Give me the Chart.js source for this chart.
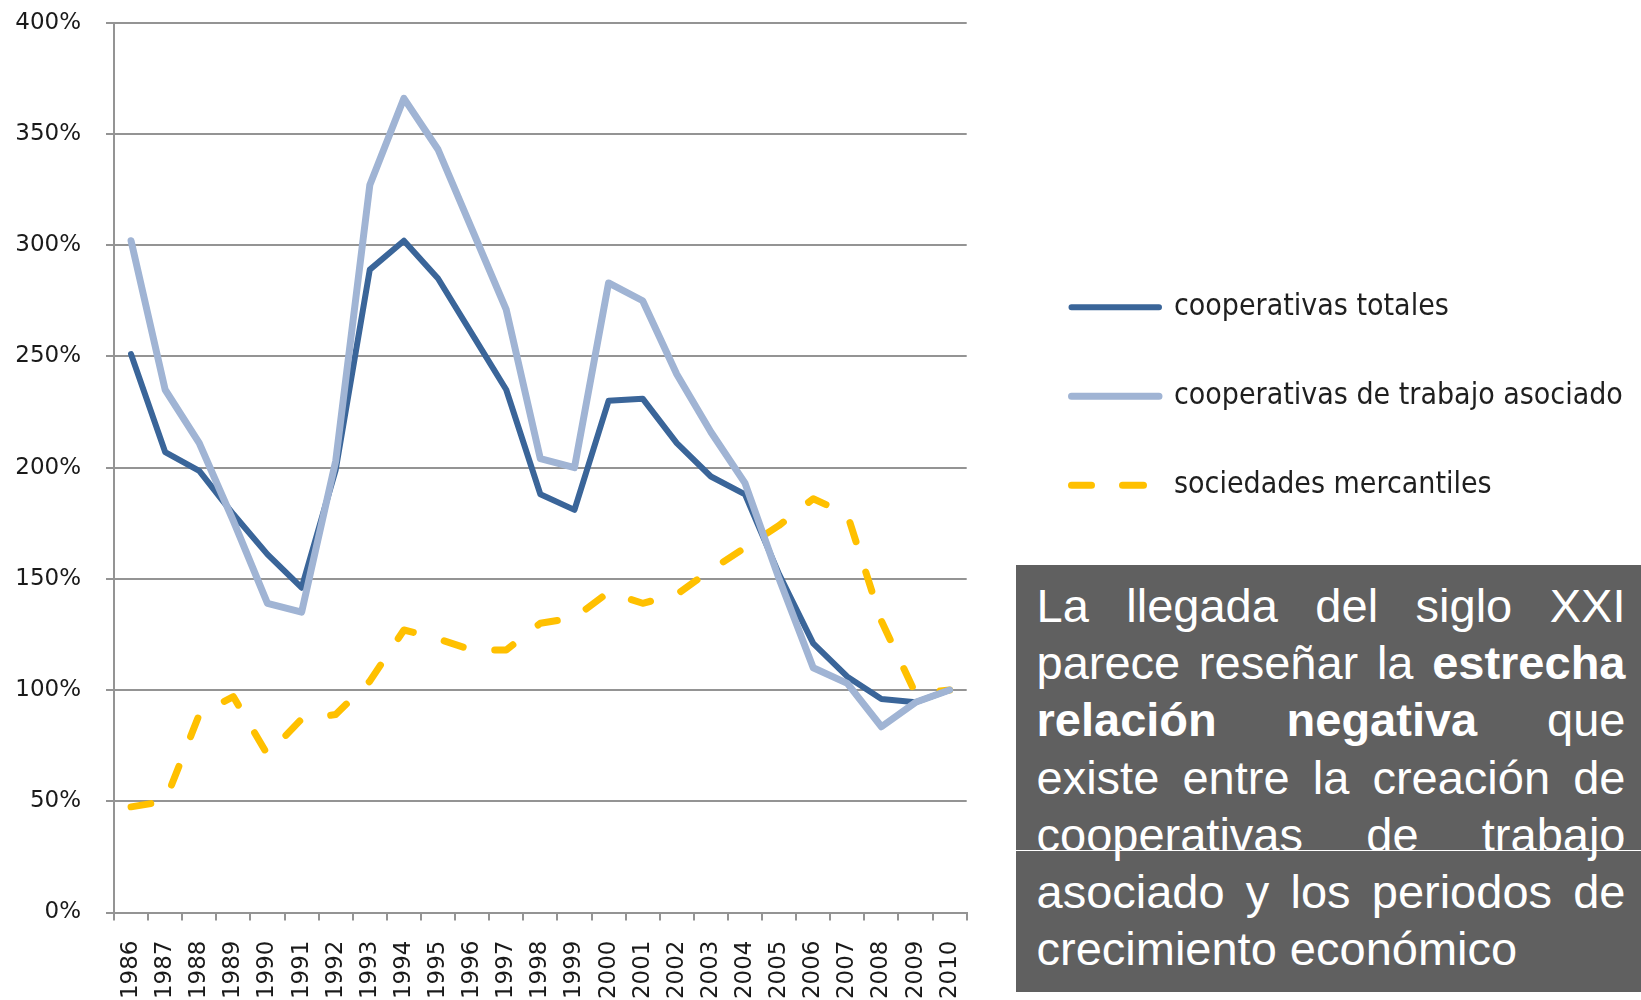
<!DOCTYPE html>
<html>
<head>
<meta charset="utf-8">
<script src="https://cdn.jsdelivr.net/npm/chart.js@4.4.1/dist/chart.umd.min.js"></script>
<style>
html,body{margin:0;padding:0;background:#fff;width:1641px;height:1000px;overflow:hidden;}
#c{position:absolute;left:0;top:0;width:1641px;height:1000px;}
#box{position:absolute;left:1016px;top:565px;width:625px;height:427px;background:#606060;}
.ln{position:absolute;left:20.5px;width:589px;font-family:"Liberation Sans",Arial,sans-serif;font-size:47px;line-height:56.7px;height:56.7px;color:#fff;text-align:justify;text-align-last:justify;}
.ln.last{text-align:left;text-align-last:left;}
#rule{position:absolute;left:0;top:284.5px;width:625px;height:1.5px;background:#fff;}
</style>
</head>
<body>
<canvas id="c" width="1641" height="1000"></canvas>
<div id="box">
  <div class="ln" style="top:13px">La llegada del siglo XXI</div>
  <div class="ln" style="top:70.2px">parece reseñar la <b>estrecha</b></div>
  <div class="ln" style="top:127.4px"><b>relación negativa</b> que</div>
  <div class="ln" style="top:184.6px">existe entre la creación de</div>
  <div class="ln" style="top:241.8px">cooperativas de trabajo</div>
  <div id="rule"></div>
  <div class="ln" style="top:299px">asociado y los periodos de</div>
  <div class="ln last" style="top:356.2px">crecimiento económico</div>
</div>
<script>
const years = ['1986','1987','1988','1989','1990','1991','1992','1993','1994','1995','1996','1997','1998','1999','2000','2001','2002','2003','2004','2005','2006','2007','2008','2009','2010'];
const cooperativasTotales = [251,207,198.5,179,161,146,199,289,302,285,260,235,188,181,230,231,211,196,188,152,121,106,96,94.5,100];
const cooperativasTrabajoAsociado = [302,235,211,176,139,135,203,327,366,343,307,271,204,200,283,275,242,216,193,150,110,103,83.5,94.5,100];
const sociedadesMercantiles = [47.5,50,89,97,71,87,89,104,127,123,118,118,130,132.5,144,139,143,154,164,174,186,179,131,98.5,100];
const yTicks = [0,50,100,150,200,250,300,350,400];
const seriesLabels = ['cooperativas totales','cooperativas de trabajo asociado','sociedades mercantiles'];

const gridColor = '#949494';
const labelColor = '#1a1a1a';

new Chart(document.getElementById('c'), {
  type: 'line',
  data: {
    labels: years,
    datasets: [
      {label: seriesLabels[0], data: cooperativasTotales, borderColor: '#3a6599', backgroundColor: '#3a6599', borderWidth: 6, pointRadius: 0, tension: 0, order: 1, borderJoinStyle: 'round', borderCapStyle: 'round'},
      {label: seriesLabels[1], data: cooperativasTrabajoAsociado, borderColor: '#a0b4d4', backgroundColor: '#a0b4d4', borderWidth: 7, pointRadius: 0, tension: 0, order: 0, borderJoinStyle: 'round', borderCapStyle: 'round'},
      {label: seriesLabels[2], data: sociedadesMercantiles, borderColor: '#ffc000', backgroundColor: '#ffc000', borderWidth: 7, borderDash: [20, 32], pointRadius: 0, tension: 0, order: 2, borderJoinStyle: 'round', borderCapStyle: 'round'}
    ]
  },
  options: {
    responsive: false,
    animation: false,
    events: [],
    devicePixelRatio: 1,
    layout: {padding: {top: 22.7, right: 8.5, bottom: 0, left: 0}},
    plugins: {
      tooltip: {enabled: false},
      legend: {
        position: 'right',
        align: 'start',
        maxWidth: 620,
        title: {display: true, text: '', padding: {top: 0, bottom: 198.6}, font: {size: 10}},
        labels: {
          font: {family: '"DejaVu Sans Condensed","DejaVu Sans",sans-serif', size: 30},
          color: '#1f1f1f',
          boxWidth: 87.5,
          boxHeight: 0,
          padding: 59,
          sort: (a, b) => a.datasetIndex - b.datasetIndex
        }
      }
    },
    scales: {
      x: {
        type: 'category',
        offset: true,
        grid: {display: true, drawOnChartArea: false, drawTicks: true, tickLength: 8, color: gridColor, lineWidth: 2, offset: true},
        border: {display: true, color: gridColor, width: 2},
        ticks: {autoSkip: false, maxRotation: 90, minRotation: 90, padding: 20, color: labelColor, font: {family: '"DejaVu Sans",sans-serif', size: 23}},
        afterFit: (s) => { s.height = 87.5; s.paddingLeft = 0; s.paddingRight = 0; }
      },
      y: {
        type: 'linear',
        position: 'left',
        min: 0,
        max: 400,
        afterBuildTicks: (s) => { s.ticks = yTicks.map(v => ({value: v})); },
        grid: {color: gridColor, lineWidth: 2, drawTicks: true, tickLength: 8},
        border: {display: true, color: gridColor, width: 2},
        ticks: {padding: 25, color: labelColor, font: {family: '"DejaVu Sans",sans-serif', size: 23}, callback: (v) => v + '%'},
        afterFit: (s) => { s.width = 114; s.paddingTop = 0; s.paddingBottom = 0; }
      },
      spacer: {
        type: 'linear',
        position: 'right',
        display: true,
        grid: {display: false, drawTicks: false},
        border: {display: false},
        ticks: {display: false},
        afterFit: (s) => { s.width = 45.8; s.paddingTop = 0; s.paddingBottom = 0; }
      }
    }
  }
});
</script>
</body>
</html>
